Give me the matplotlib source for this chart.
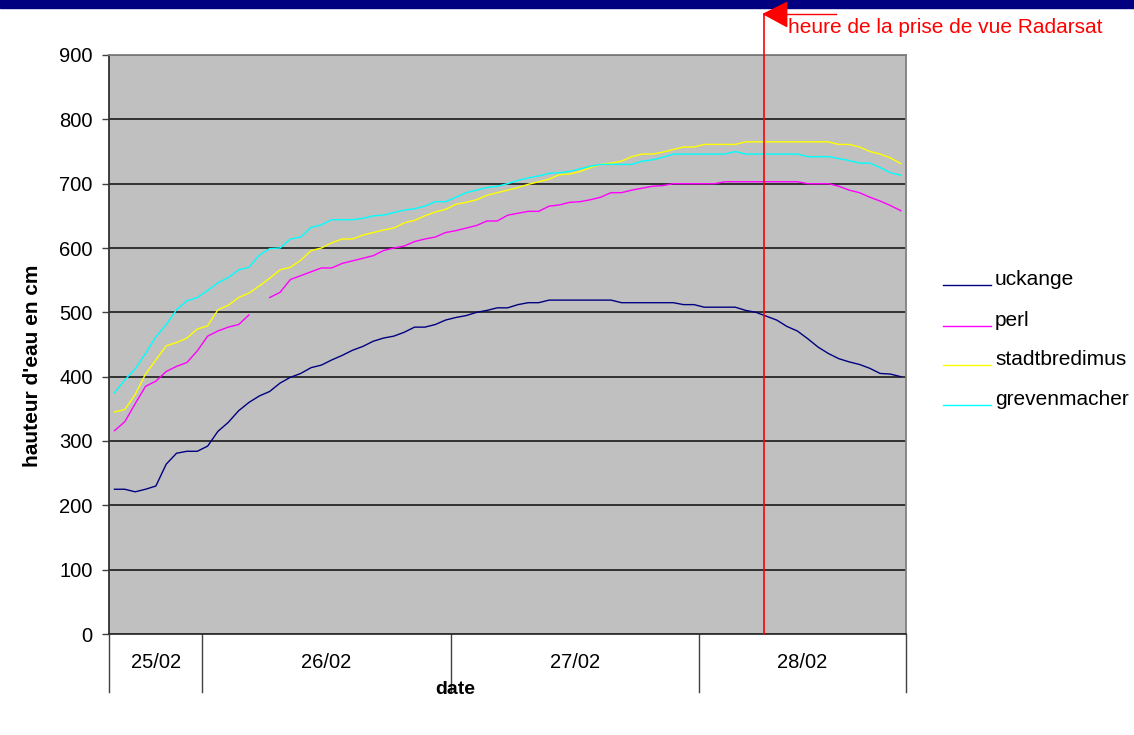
import numpy as np
import matplotlib
matplotlib.use("Agg")
import matplotlib.pyplot as plt
from matplotlib.lines import Line2D
from matplotlib.patches import Polygon, Rectangle

plt.rcParams['font.family'] = ['Liberation Sans', 'DejaVu Sans']

# hauteurs d'eau (cm), une valeur par heure
uckange = [225, 225, 221, 225, 230, 264, 281, 284, 284, 292,
           315, 329, 347, 360, 370, 377, 390, 399, 405, 414,
           418, 426, 433, 441, 447, 455, 460, 463, 469, 477,
           477, 481, 488, 492, 495, 500, 503, 507, 507,
           512, 515, 515, 519, 519, 519, 519, 519, 519, 519,
           515, 515, 515, 515, 515, 515, 512, 512,
           508, 508, 508, 508, 503, 500, 494, 488, 478, 471,
           459, 446, 436, 428, 423, 419, 413, 405, 404, 400]
perl = [316, 330, 358, 385, 393, 408, 416, 422, 440, 463,
        471, 477, 481, 496, np.nan, 523, 531, 551, 557,
        563, 569, 569, 576, 580, 584, 588, 596, 600, 603,
        610, 614, 617, 624, 627, 631, 635, 642, 642,
        651, 654, 657, 657, 665, 667, 671, 672, 675, 679,
        686, 686, 690, 693, 696, 697, 700, 700, 700,
        700, 700, 703, 703, 703, 703, 703, 703, 703, 703,
        700, 700, 700, 696, 690, 686, 679, 673, 666, 658]
stadtbredimus = [345, 349, 372, 404, 426, 448, 453, 460, 474, 479,
                 504, 511, 523, 530, 541, 553, 566, 570, 581,
                 596, 600, 608, 614, 614, 620, 624, 628, 631, 639,
                 643, 650, 656, 660, 668, 671, 675, 682, 686,
                 690, 694, 699, 703, 707, 714, 715, 719, 725, 730,
                 732, 735, 742, 746, 746, 749, 753, 757, 757,
                 761, 761, 761, 761, 765, 765, 765, 765, 765, 765,
                 765, 765, 765, 761, 761, 757, 750, 746, 740, 731]
grevenmacher = [375, 395, 412, 436, 462, 481, 504, 518, 523, 534,
                546, 554, 566, 570, 589, 599, 600, 614, 617,
                632, 636, 644, 644, 644, 646, 650, 651, 655, 659,
                661, 665, 672, 672, 679, 686, 690, 694, 696,
                700, 705, 709, 712, 716, 717, 719, 723, 727, 730,
                730, 730, 730, 735, 737, 741, 746, 746, 746,
                746, 746, 746, 750, 746, 746, 746, 746, 746, 746,
                742, 742, 742, 739, 736, 732, 732, 725, 717, 713]

days = ['25/02', '26/02', '27/02', '28/02']
hours_per_day = [9, 24, 24, 20]
radar_idx = 62.75   # heure de la prise de vue Radarsat

series = [('uckange', uckange, '#000080'),
          ('perl', perl, '#FF00FF'),
          ('stadtbredimus', stadtbredimus, '#FFFF00'),
          ('grevenmacher', grevenmacher, '#00FFFF')]

W, H = 1134, 735
fx = lambda px: px / W
fy = lambda py: 1 - py / H

fig = plt.figure(figsize=(W / 100, H / 100), dpi=100)
ax = fig.add_axes([fx(109.3), fy(634), (906 - 109.3) / W, (634 - 55) / H])
ax.set_facecolor('#C0C0C0')

x = np.arange(len(uckange))
for name, vals, col in series:
    ax.plot(x, vals, color=col, lw=1.0, zorder=3)

ax.set_xlim(-0.5, len(uckange) - 0.5)
ax.set_ylim(0, 900)
ax.set_yticks(np.arange(0, 901, 100))
ax.tick_params(axis='y', labelsize=14.5, length=5, width=1, color='#404040', pad=7)
ax.set_xticks([])
ax.yaxis.grid(True, color='#1a1a1a', lw=1.2)
ax.set_axisbelow(True)
for s in ['left', 'bottom']:
    ax.spines[s].set_color('#303030')
    ax.spines[s].set_linewidth(1.3)
for s in ['top', 'right']:
    ax.spines[s].set_color('#808080')
    ax.spines[s].set_linewidth(1.3)

# groupes de dates sous l'axe
tr = ax.get_xaxis_transform()
edges = np.concatenate([[0], np.cumsum(hours_per_day)]) - 0.5
for e in edges:
    ax.plot([e, e], [0, -0.1], transform=tr, color='#404040', lw=1, clip_on=False)
for d, a, b in zip(days, edges[:-1], edges[1:]):
    ax.text((a + b) / 2, -0.05, d, transform=tr, ha='center', va='center', fontsize=14.5)

fig.text(fx(455), fy(690), 'date', ha='center', va='center', fontsize=14, fontweight='bold')
fig.text(fx(33), fy(366), "hauteur d'eau en cm", rotation=90, ha='center', va='center',
         fontsize=15, fontweight='bold')

# légende
leg_y = [285, 326, 365, 405]
for (name, vals, col), yy in zip(series, leg_y):
    fig.add_artist(Line2D([fx(943), fx(991)], [fy(yy), fy(yy)], color=col, lw=1.0))
    fig.text(fx(995), fy(yy), name, ha='left', va='baseline', fontsize=15)

# bandeau
fig.add_artist(Rectangle((0, fy(8)), 1, 8 / H, transform=fig.transFigure,
                         color='#000080', zorder=1))

# repère Radarsat
ax.plot([radar_idx, radar_idx], [0, 1 + (55 - 14) / (634 - 55)], transform=tr,
        color='#FF0000', lw=1.2, clip_on=False, zorder=4)
tip = fig.transFigure.inverted().transform(ax.transData.transform((radar_idx, 0)))[0]
fig.add_artist(Polygon([(tip, fy(14)), (tip + fx(23), fy(2.5)), (tip + fx(23), fy(26.5))],
                       closed=True, transform=fig.transFigure, color='#FF0000', zorder=5))
fig.add_artist(Line2D([tip, tip + fx(72)], [fy(14), fy(14)], color='#FF0000', lw=1.0, zorder=5))
fig.text(tip + fx(24), fy(33), 'heure de la prise de vue Radarsat', color='#FF0000',
         ha='left', va='baseline', fontsize=15)

fig.savefig('out.png', dpi=100)
